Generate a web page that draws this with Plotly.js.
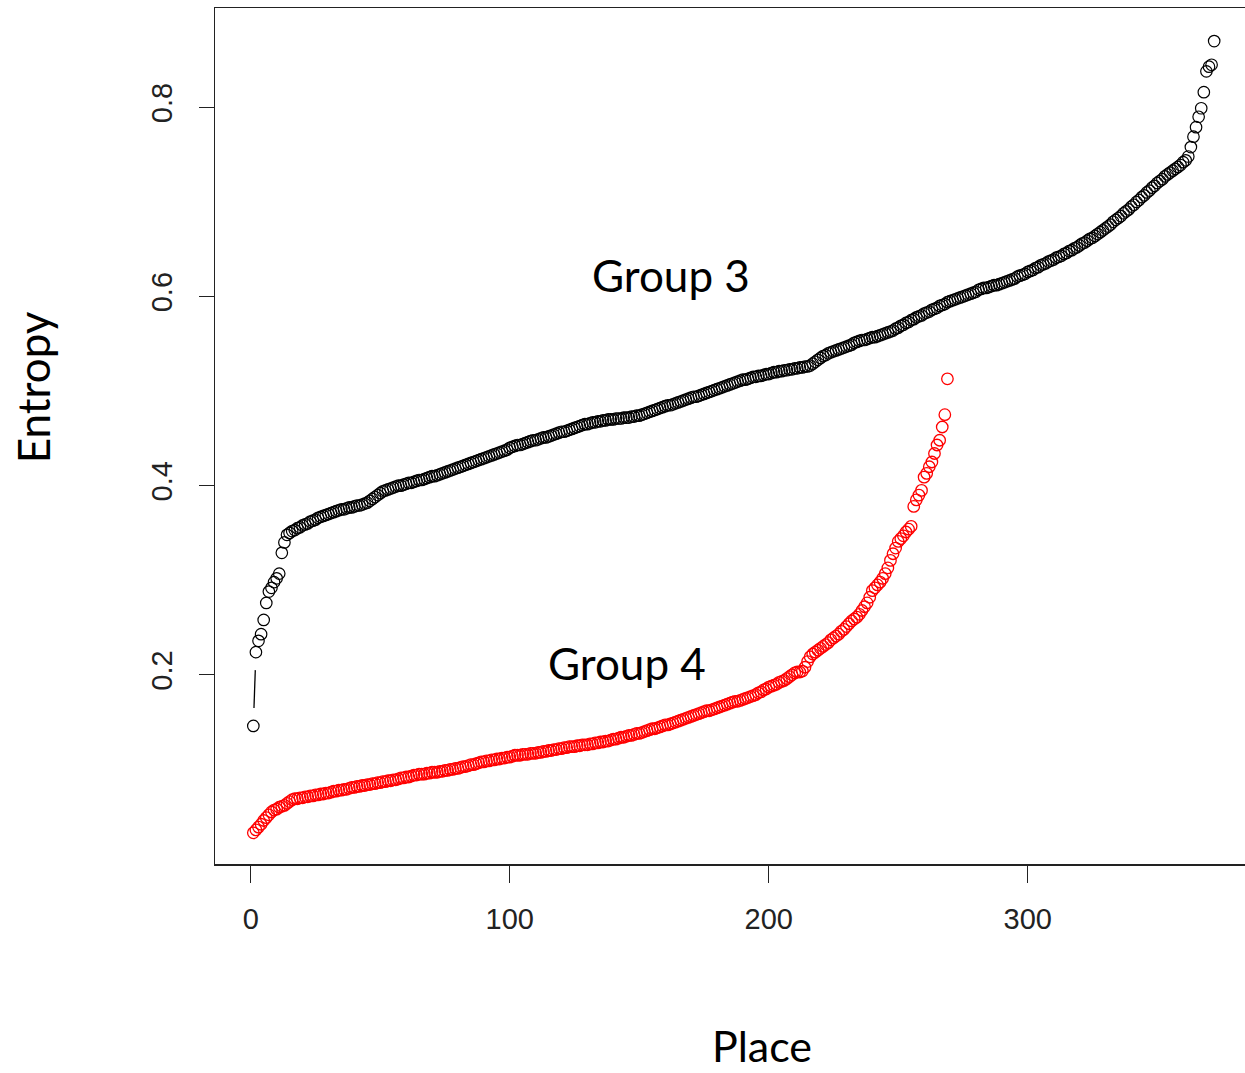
<!DOCTYPE html>
<html>
<head>
<meta charset="utf-8">
<script src="https://cdn.plot.ly/plotly-3.0.1.min.js"></script>
<style>html,body{margin:0;padding:0;background:#fff;overflow:hidden}</style>
</head>
<body>
<div id="chart" style="width:1245px;height:1073px"></div>
<script>
// Group 3 entropy values (sorted), place index = position in list (1..n)
const group3 = [
0.146,0.224,0.236,0.243,0.258,0.276,0.288,0.292,0.298,0.302,0.307,0.329,0.340,0.348,
0.350,0.352,0.353,0.355,0.356,0.358,0.359,0.360,0.362,0.363,0.364,0.366,0.367,0.368,0.369,0.370,
0.371,0.372,0.373,0.374,0.375,0.375,0.376,0.377,0.377,0.378,0.379,0.379,0.380,0.381,0.382,
0.384,0.386,0.388,0.390,0.392,0.394,0.395,0.396,0.397,0.398,0.399,0.400,0.400,
0.401,0.402,0.403,0.403,0.404,0.405,0.406,0.406,0.407,0.408,0.409,0.410,0.410,0.411,0.412,0.413,0.414,
0.415,0.416,0.417,0.418,0.419,0.420,0.421,0.422,0.423,0.424,0.425,0.426,0.427,
0.428,0.429,0.430,0.431,0.432,0.433,0.434,0.435,0.436,0.437,0.438,0.440,
0.441,0.442,0.443,0.443,0.444,0.445,0.446,0.447,0.448,0.448,0.449,0.450,
0.451,0.451,0.452,0.453,0.454,0.455,0.456,0.457,0.457,0.458,0.459,
0.460,0.461,0.462,0.463,0.464,0.465,0.465,0.466,
0.467,0.467,0.468,0.468,0.469,0.469,0.470,0.470,0.470,0.471,0.471,0.471,0.472,0.472,0.472,0.473,0.473,0.474,0.474,
0.475,0.476,0.477,0.478,0.479,0.480,0.481,0.482,0.483,0.484,0.485,0.485,0.486,
0.487,0.488,0.489,0.490,0.491,0.492,0.493,0.494,0.494,0.495,0.496,0.497,0.498,
0.499,0.500,0.501,0.502,0.503,0.504,0.505,0.506,0.507,0.508,
0.509,0.510,0.511,0.512,0.512,0.513,0.514,
0.515,0.515,0.516,0.516,0.517,0.518,0.518,0.519,0.520,0.520,0.521,
0.521,0.522,0.522,0.523,0.523,0.524,0.524,0.525,0.525,0.526,0.526,0.527,
0.529,0.531,0.533,0.535,0.537,0.538,0.540,0.541,
0.542,0.543,0.544,0.545,0.546,0.547,0.548,0.549,0.551,0.552,0.553,
0.554,0.554,0.555,0.556,0.557,0.557,0.558,0.559,0.560,0.561,0.562,0.563,
0.564,0.566,0.567,0.569,0.570,0.572,0.573,0.575,0.576,0.578,0.579,
0.580,0.582,0.583,0.584,0.586,0.587,0.588,0.590,0.591,0.592,0.594,0.595,
0.596,0.597,0.598,0.599,0.600,0.601,0.602,0.603,0.604,0.605,0.607,0.608,
0.609,0.609,0.610,0.611,0.612,0.612,0.613,0.614,0.615,0.616,0.617,
0.618,0.619,0.621,0.622,0.623,0.624,0.626,0.627,0.628,0.630,0.631,0.633,
0.634,0.635,0.637,0.638,0.639,0.641,0.642,0.643,0.645,0.646,0.648,
0.649,0.651,0.652,0.654,0.656,0.657,0.659,0.661,0.662,0.664,0.666,0.668,
0.670,0.672,0.674,0.676,0.679,0.681,0.683,0.685,0.688,0.690,0.692,0.695,
0.697,0.700,0.702,0.705,0.707,0.710,0.712,0.715,0.717,0.720,0.722,
0.724,0.727,0.729,0.731,0.733,0.735,0.737,0.739,0.742,
0.744,0.748,0.758,0.769,0.779,0.790,0.799,0.816,0.838,0.843,0.845,0.870
];

// Group 4 entropy values (sorted)
const group4 = [
0.033,0.036,0.039,0.042,0.046,0.049,0.052,0.055,0.057,0.058,0.060,0.061,0.062,0.064,0.066,0.068,
0.069,0.069,0.070,0.070,0.071,0.071,0.072,0.072,0.073,
0.073,0.074,0.074,0.075,0.075,0.076,0.077,0.077,0.078,0.078,0.079,0.079,0.080,
0.081,0.081,0.082,0.082,0.083,0.083,0.084,0.084,0.085,0.085,0.086,0.086,0.087,
0.087,0.088,0.088,0.089,0.089,0.090,0.091,0.091,0.092,0.092,0.093,0.094,
0.094,0.095,0.095,0.095,0.096,0.096,0.097,0.097,0.097,0.098,0.098,0.099,0.099,
0.100,0.100,0.101,0.101,0.102,0.103,0.103,0.104,0.105,0.105,0.106,0.107,0.108,
0.108,0.109,0.109,0.110,0.110,0.111,0.111,0.112,0.112,0.113,0.113,0.114,0.115,
0.115,0.115,0.116,0.116,0.116,0.117,0.117,0.117,0.118,0.118,0.119,0.119,
0.120,0.120,0.121,0.121,0.122,0.122,0.123,0.123,0.124,0.124,0.124,0.125,0.125,0.126,0.126,0.126,
0.127,0.127,0.128,0.128,0.129,0.129,0.130,0.130,0.131,0.132,0.132,0.133,0.134,0.134,0.135,0.136,0.136,0.137,0.138,0.138,0.139,0.140,0.141,0.142,0.143,
0.143,0.144,0.145,0.146,0.147,0.147,0.148,0.149,0.150,0.151,0.152,0.153,0.154,
0.155,0.156,0.157,0.158,0.159,0.160,0.161,0.162,0.162,0.163,0.164,0.165,0.166,
0.167,0.168,0.169,0.170,0.171,0.172,0.172,0.173,0.174,0.175,0.176,0.177,0.178,
0.179,0.181,0.182,0.184,0.185,0.187,0.188,0.189,0.190,0.192,0.193,0.194,
0.196,0.198,0.200,0.202,0.203,0.203,0.204,
0.208,0.214,0.219,0.222,0.224,0.226,0.228,
0.230,0.232,0.234,0.237,0.239,0.241,0.243,0.246,0.248,0.251,0.254,
0.257,0.259,0.261,0.264,0.268,0.272,0.276,0.282,0.289,
0.292,0.295,0.298,0.302,0.307,0.313,0.321,0.328,0.334,0.341,0.344,0.347,0.351,0.354,0.357,
0.378,0.385,0.390,0.395,0.409,0.413,0.420,0.425,0.434,0.443,0.448,0.462,0.475,0.513
];

const xTicks = [0, 100, 200, 300];
const yTicks = [0.2, 0.4, 0.6, 0.8];
const labels = {g3: "Group 3", g4: "Group 4", x: "Place", y: "Entropy"};

const W = 1245, H = 1073;
const M = {l: 215, r: 0, t: 8, b: 209};
const xRange = [-13.8, 383.9];
const yRange = [0, 0.905];
const plotW = W - M.l - M.r, plotH = H - M.t - M.b;

function places(arr) { return arr.map((_, i) => i + 1); }

// R type="b": segments between points, with a gap around each point
const GAP = 18;
function gapSegments(ys) {
  const xs = places(ys);
  const sx = plotW / (xRange[1] - xRange[0]);
  const sy = plotH / (yRange[1] - yRange[0]);
  const outX = [], outY = [];
  for (let i = 0; i < ys.length - 1; i++) {
    const dx = (xs[i + 1] - xs[i]) * sx, dy = (ys[i + 1] - ys[i]) * sy;
    const d = Math.hypot(dx, dy);
    if (d > 2 * GAP) {
      const f = GAP / d;
      outX.push(xs[i] + (xs[i + 1] - xs[i]) * f, xs[i + 1] - (xs[i + 1] - xs[i]) * f, null);
      outY.push(ys[i] + (ys[i + 1] - ys[i]) * f, ys[i + 1] - (ys[i + 1] - ys[i]) * f, null);
    }
  }
  return {x: outX, y: outY};
}

const markerBase = {symbol: "circle-open", size: 11.5};
const s3 = gapSegments(group3), s4 = gapSegments(group4);

const traces = [
  {x: places(group3), y: group3, type: "scatter", mode: "markers", cliponaxis: false,
   marker: Object.assign({}, markerBase, {color: "#000", line: {color: "#000", width: 1.2}})},
  {x: places(group4), y: group4, type: "scatter", mode: "markers",
   marker: Object.assign({}, markerBase, {color: "#ff0000", line: {color: "#ff0000", width: 1.3}})},
  {x: s3.x, y: s3.y, type: "scatter", mode: "lines", line: {color: "#000", width: 1.3}, connectgaps: false},
  {x: s4.x, y: s4.y, type: "scatter", mode: "lines", line: {color: "#ff0000", width: 1.3}, connectgaps: false}
];

const calib = "Lato, 'Open Sans', sans-serif";
const layout = {
  width: W, height: H,
  margin: M,
  showlegend: false,
  paper_bgcolor: "#fff", plot_bgcolor: "#fff",
  xaxis: {
    range: xRange, tickvals: xTicks, ticktext: xTicks.map(String),
    showgrid: false, zeroline: false,
    showline: true, linecolor: "#222", linewidth: 1.5, mirror: true,
    ticks: "outside", ticklen: 17, tickwidth: 1.3, tickcolor: "#222",
    tickfont: {family: "'Liberation Sans', Arial, sans-serif", size: 29, color: "#222"},
    ticklabelstandoff: 12
  },
  yaxis: {
    range: yRange, tickvals: yTicks, ticktext: yTicks.map(v => v.toFixed(1)),
    showgrid: false, zeroline: false,
    showline: true, linecolor: "#222", linewidth: 1.5, mirror: false,
    ticks: "outside", ticklen: 15, tickwidth: 1.3, tickcolor: "#222",
    tickangle: -90,
    tickfont: {family: "'Liberation Sans', Arial, sans-serif", size: 29, color: "#222"},
    ticklabelstandoff: 15
  },
  annotations: [
    {text: labels.g3, x: 162.3, y: 0.6225, xref: "x", yref: "y", showarrow: false,
     xanchor: "center", yanchor: "middle", font: {family: calib, size: 44, color: "#000"}},
    {text: labels.g4, x: 145.3, y: 0.2124, xref: "x", yref: "y", showarrow: false,
     xanchor: "center", yanchor: "middle", font: {family: calib, size: 44, color: "#000"}},
    {text: labels.x, x: 0.531, y: -0.2115, xref: "paper", yref: "paper", showarrow: false,
     xanchor: "center", yanchor: "middle", font: {family: calib, size: 43, color: "#000"}},
    {text: labels.y, x: -0.1767, y: 0.557, xref: "paper", yref: "paper", showarrow: false,
     xanchor: "center", yanchor: "middle",
     textangle: -90, font: {family: calib, size: 44, color: "#000"}}
  ]
};

Plotly.newPlot("chart", traces, layout, {displayModeBar: false, staticPlot: true});
</script>
</body>
</html>
